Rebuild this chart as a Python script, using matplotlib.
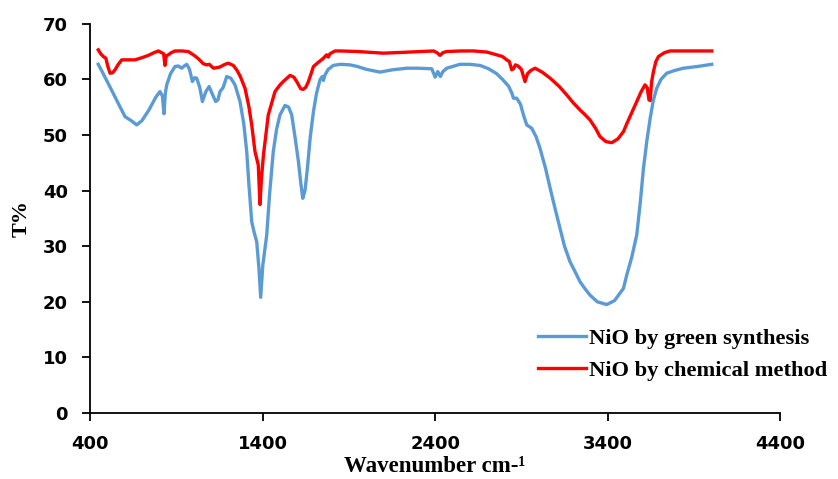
import numpy as np
import matplotlib.pyplot as plt

# FTIR spectra (wavenumber in cm-1, transmittance in %)
green_x = [446, 475, 514, 560, 601, 640, 669, 700, 740, 780, 804, 818, 827, 835, 843,
           865, 891, 910, 930, 945, 959, 975, 992, 1005, 1017, 1035, 1050, 1070, 1089,
           1108, 1127, 1140, 1152, 1170, 1191, 1215, 1239, 1268, 1290, 1307, 1320, 1336,
           1350, 1365, 1378, 1388, 1400, 1423, 1440, 1461, 1480, 1500, 1529, 1550, 1568,
           1590, 1607, 1620, 1632, 1645, 1659, 1675, 1694, 1712, 1732, 1745, 1752, 1761,
           1780, 1809, 1850, 1906, 1950, 2000, 2080, 2150, 2235, 2300, 2380, 2400, 2415,
           2430, 2445, 2467, 2500, 2544, 2600, 2660, 2710, 2757, 2790, 2825, 2845, 2854,
           2873, 2895, 2912, 2931, 2960, 2985, 3008, 3040, 3067, 3095, 3124, 3150, 3182,
           3210, 3240, 3270, 3298, 3340, 3395, 3440, 3492, 3511, 3540, 3569, 3590, 3608,
           3628, 3647, 3665, 3685, 3710, 3743, 3790, 3840, 3920, 4004]
green_t = [62.7, 61.0, 58.6, 55.8, 53.3, 52.5, 51.8, 52.6, 54.5, 56.8, 57.8, 57.0, 53.8,
           57.5, 59.0, 61.0, 62.3, 62.4, 62.0, 62.4, 62.7, 61.8, 59.6, 60.3, 60.2, 58.5,
           56.0, 57.8, 58.7, 57.3, 56.0, 56.3, 57.8, 58.5, 60.5, 60.2, 59.0, 56.0, 52.0,
           47.0, 41.0, 34.4, 32.5, 30.8, 26.0, 20.8, 26.5, 32.0, 39.5, 47.0, 51.0, 53.6,
           55.3, 55.0, 53.6, 49.0, 45.2, 41.5, 38.6, 40.0, 44.0, 49.5, 54.2, 57.5, 59.9,
           60.5, 59.8, 60.8, 61.8, 62.5, 62.7, 62.6, 62.3, 61.8, 61.3, 61.7, 62.0, 62.0,
           61.9, 60.4, 61.4, 60.5, 61.4, 62.0, 62.3, 62.7, 62.7, 62.5, 61.9, 61.0, 60.0,
           58.8, 57.5, 56.6, 56.6, 55.5, 53.6, 51.8, 51.2, 49.7, 47.6, 44.0, 40.4, 36.8,
           33.2, 30.0, 27.2, 25.5, 23.6, 22.3, 21.2, 20.0, 19.5, 20.2, 22.4, 24.8, 28.0,
           32.0, 38.0, 44.0, 49.0, 53.0, 56.2, 58.4, 60.0, 61.1, 61.6, 62.0, 62.3, 62.7]

chem_x = [446, 460, 475, 490, 500, 514, 530, 543, 560, 582, 620, 659, 700, 736, 770, 794,
          813, 825, 833, 840, 852, 870, 891, 930, 968, 1007, 1030, 1055, 1075, 1090, 1114,
          1150, 1181, 1200, 1229, 1249, 1270, 1297, 1320, 1336, 1355, 1374, 1384, 1392,
          1404, 1432, 1471, 1500, 1519, 1558, 1580, 1597, 1620, 1635, 1650, 1665, 1694,
          1720, 1752, 1770, 1780, 1790, 1819, 1848, 1950, 2100, 2250, 2390, 2410, 2428,
          2445, 2467, 2550, 2622, 2700, 2757, 2790, 2815, 2830, 2844, 2854, 2865, 2880,
          2900, 2921, 2935, 2955, 2979, 3020, 3067, 3120, 3163, 3200, 3240, 3270, 3298,
          3330, 3356, 3390, 3424, 3460, 3492, 3511, 3540, 3569, 3595, 3617, 3630, 3640,
          3647, 3655, 3666, 3680, 3695, 3730, 3763, 3850, 4004]
chem_t = [65.3, 64.6, 64.1, 63.8, 62.5, 61.1, 61.2, 61.7, 62.6, 63.5, 63.5, 63.5, 63.9,
          64.3, 64.8, 65.1, 64.8, 64.6, 62.5, 64.2, 64.4, 64.8, 65.1, 65.1, 65.0, 64.2,
          63.6, 62.8, 62.6, 62.7, 62.0, 62.2, 62.7, 62.9, 62.5, 61.7, 60.5, 58.4, 55.0,
          51.8, 47.0, 44.6, 37.5, 42.0, 46.4, 53.6, 57.8, 59.0, 59.6, 60.7, 60.4, 59.6,
          58.3, 58.2, 58.6, 59.6, 62.3, 63.0, 63.8, 64.4, 64.0, 64.6, 65.1, 65.1, 65.0,
          64.7, 64.9, 65.1, 64.8, 64.3, 64.8, 65.0, 65.1, 65.1, 64.9, 64.4, 64.1, 63.5,
          63.2, 61.7, 61.9, 62.6, 62.4, 61.8, 59.6, 61.0, 61.6, 62.0, 61.3, 60.2, 58.7,
          57.2, 55.8, 54.5, 53.6, 52.7, 51.2, 49.7, 48.8, 48.6, 49.3, 50.6, 52.0, 54.0,
          56.0, 57.8, 59.0, 58.5, 56.3, 56.2, 59.5, 61.4, 63.2, 64.1, 64.8, 65.1, 65.1,
          65.1]

x_ticks = [400, 1400, 2400, 3400, 4400]
y_ticks = [0, 10, 20, 30, 40, 50, 60, 70]

fig = plt.figure(figsize=(8.38, 4.79), dpi=100)
ax = fig.add_axes([0.1078, 0.1378, 0.823, 0.8127])

ax.plot(green_x, green_t, color="#5B9BD5", lw=2.4, label="NiO by green synthesis")
ax.plot(chem_x, chem_t, color="#FF0000", lw=2.4, label="NiO by chemical method")

ax.set_xlim(400, 4400)
ax.set_ylim(0, 70)
ax.set_xticks(x_ticks)
ax.set_yticks(y_ticks)
for s in ["top", "right"]:
    ax.spines[s].set_visible(False)
for s in ["left", "bottom"]:
    ax.spines[s].set_linewidth(1.3)
ax.tick_params(direction="out", length=6, width=1.3, pad=10, labelsize=13)
for lab in ax.get_xticklabels() + ax.get_yticklabels():
    lab.set_fontweight("bold")
    lab.set_fontfamily("DejaVu Sans")

ax.set_ylabel("T%", family="Liberation Serif", fontweight="bold", fontsize=16, labelpad=8)
fig.text(0.519, 0.014, "Wavenumber cm-\u00b9", family="Liberation Serif",
         fontweight="bold", fontsize=16.5, ha="center", va="baseline")

ax.legend(loc="upper left", bbox_to_anchor=(527 / 838, 1 - 317 / 479),
          bbox_transform=fig.transFigure, frameon=False, borderpad=0,
          handlelength=2.1, handletextpad=0.15, labelspacing=0.5,
          prop={"family": "Liberation Serif", "weight": "bold", "size": 16.2})

fig.savefig("out.png", dpi=100)
